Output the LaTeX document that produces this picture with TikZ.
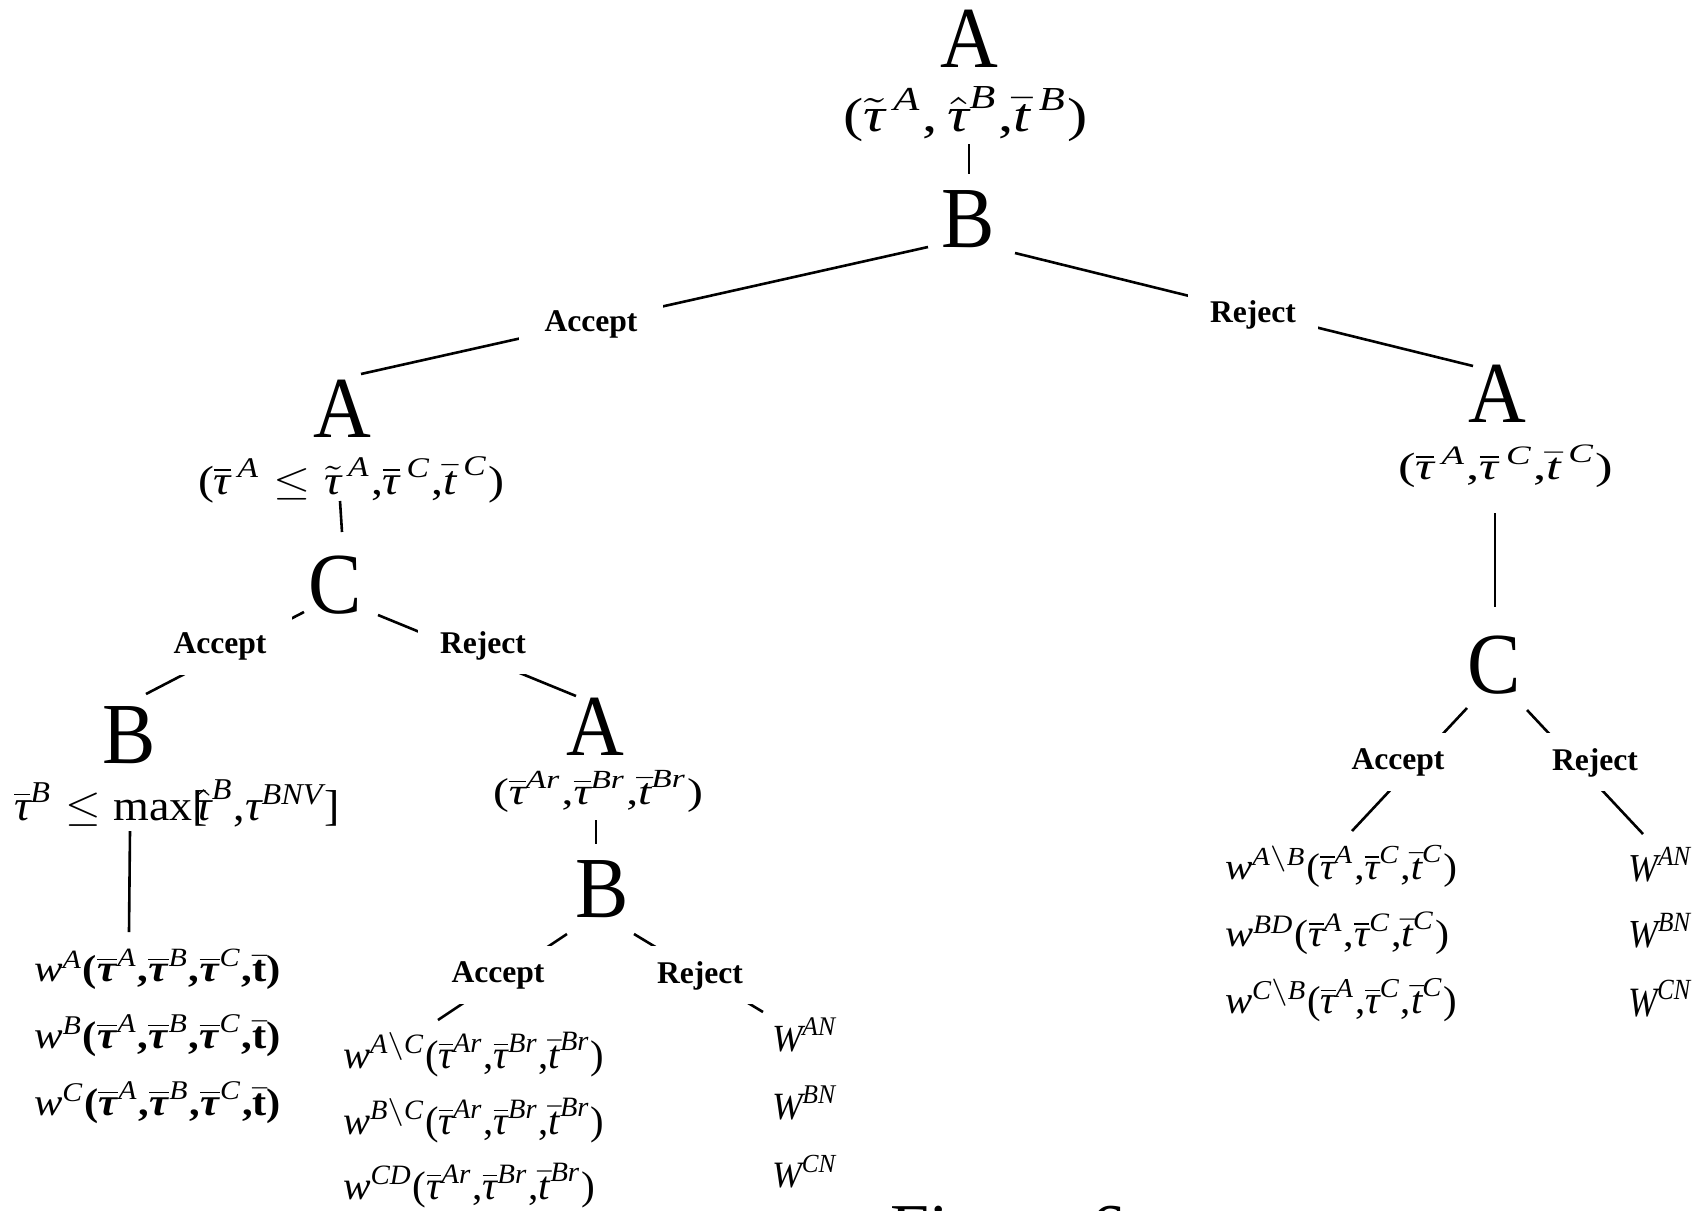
\documentclass[tikz,border=0pt]{standalone}
\usepackage{fontspec}
\setmainfont{Liberation Serif}
\usepackage{amsmath}
\usepackage{graphicx}
\usetikzlibrary{calc}
\newlength\pxu \setlength\pxu{0.5pt}
\newcommand{\fitf}[3]{\resizebox*{#1\pxu}{#2\pxu}{#3}}
\newcommand{\myI}[1]{\textit{#1}}
\newcommand{\myR}[1]{\textrm{#1}}
\newcommand{\mytauB}{\overline{\textit{τ}}}
\newcommand{\mytauBB}{\overline{\textbf{\textit{τ}}}}
\newcommand{\mytauT}{\tilde{\textit{τ}}}
\newcommand{\mytauH}{\hat{\textit{τ}}}
\newcommand{\mytB}{\bar{\textit{t}}}
\newcommand{\bigL}[1]{\scalebox{0.92}[1]{#1}}
\tikzset{
  big/.style={font=\fontsize{43.5}{50}\selectfont, inner sep=0pt, outer sep=0pt, anchor=base},
  fml/.style={inner sep=0pt, outer sep=0pt, anchor=north west},
  lbl/.style={font=\fontsize{15.8}{18}\selectfont\bfseries, fill=white, inner sep=0pt, minimum height=29pt, anchor=base},
  acc/.style={lbl, minimum width=72pt},
  rej/.style={lbl, minimum width=65pt},
  edge/.style={line width=1.3pt}
}
\begin{document}
\begin{tikzpicture}[x=0.5pt,y=-0.5pt]
\fill[white] (0,0) rectangle (1701,1210);
\useasboundingbox (0,0) rectangle (1701,1210);

% big letters
\node[big] (A1) at (969,67) {\bigL{A}};
\node[big] (B1) at (968,247) {\bigL{B}};
\node[big] (A2L) at (342,437) {\bigL{A}};
\node[big] (C2L) at (335,613) {\bigL{C}};
\node[big] (B3L) at (129,763) {\bigL{B}};
\node[big] (A3) at (595,755) {\bigL{A}};
\node[big] (B4) at (602,917) {\bigL{B}};
\node[big] (A2R) at (1497,422) {\bigL{A}};
\node[big] (C2R) at (1494,693) {\bigL{C}};

% formulas
\node[fml] (lab1) at (843,87) {\fitf{245}{55}{$\myR{(}\mytauT^{\,\myI{A}}\myR{,}\,\mytauH^{\myI{B}}\myR{,}\mytB^{\,\myI{B}}\myR{)}$}};
\node[fml] (lab2L) at (198,457) {\fitf{306}{46}{$\myR{(}\mytauB^{\,\myI{A}}\le\mytauT^{\,\myI{A}}\myR{,}\mytauB^{\,\myI{C}}\myR{,}\mytB^{\,\myI{C}}\myR{)}$}};
\node[fml] (lab2R) at (1398,445) {\fitf{215}{43}{$\myR{(}\mytauB^{\,\myI{A}}\myR{,}\mytauB^{\,\myI{C}}\myR{,}\mytB^{\,\myI{C}}\myR{)}$}};
\node[fml] (lab3L) at (14,780) {\fitf{326}{47}{$\mytauB^{\myI{B}}\le\myR{max}\myR{[}\mkern-5mu\mytauH^{\myI{B}}\myR{,}\textit{τ}^{\myI{BNV}}\myR{]}$}};
\node[fml] (lab3) at (493,770) {\fitf{210}{42}{$\myR{(}\mytauB^{\myI{Ar}}\myR{,}\mytauB^{\myI{Br}}\myR{,}\mytB^{\myI{Br}}\myR{)}$}};

\node[fml] (wL1) at (34,949) {\fitf{247}{41}{$\myI{w}^{\myI{A}}\textbf{(}\mytauBB^{\myI{A}}\textbf{,}\mytauBB^{\myI{B}}\textbf{,}\mytauBB^{\myI{C}}\textbf{,}\bar{\textbf{t}}\textbf{)}$}};
\node[fml] (wL2) at (34,1015) {\fitf{247}{42}{$\myI{w}^{\myI{B}}\textbf{(}\mytauBB^{\myI{A}}\textbf{,}\mytauBB^{\myI{B}}\textbf{,}\mytauBB^{\myI{C}}\textbf{,}\bar{\textbf{t}}\textbf{)}$}};
\node[fml] (wL3) at (34,1082) {\fitf{247}{42}{$\myI{w}^{\myI{C}}\textbf{(}\mytauBB^{\myI{A}}\textbf{,}\mytauBB^{\myI{B}}\textbf{,}\mytauBB^{\myI{C}}\textbf{,}\bar{\textbf{t}}\textbf{)}$}};

\node[fml] (wM1) at (343,1032) {\fitf{261}{45}{$\myI{w}^{\myI{A}\backslash\myI{C}}\myR{(}\mytauB^{\myI{Ar}}\myR{,}\mytauB^{\myI{Br}}\myR{,}\mytB^{\myI{Br}}\myR{)}$}};
\node[fml] (wM2) at (343,1098) {\fitf{261}{45}{$\myI{w}^{\myI{B}\backslash\myI{C}}\myR{(}\mytauB^{\myI{Ar}}\myR{,}\mytauB^{\myI{Br}}\myR{,}\mytB^{\myI{Br}}\myR{)}$}};
\node[fml] (wM3) at (343,1163) {\fitf{252}{45}{$\myI{w}^{\myI{CD}}\myR{(}\mytauB^{\myI{Ar}}\myR{,}\mytauB^{\myI{Br}}\myR{,}\mytB^{\myI{Br}}\myR{)}$}};

\node[fml] (WM1) at (772,1018) {\fitf{65}{34}{$\myI{W}^{\myI{AN}}$}};
\node[fml] (WM2) at (772,1086) {\fitf{65}{34}{$\myI{W}^{\myI{BN}}$}};
\node[fml] (WM3) at (772,1155) {\fitf{65}{33}{$\myI{W}^{\myI{CN}}$}};

\node[fml] (wR1) at (1225,845) {\fitf{232}{42}{$\myI{w}^{\myI{A}\backslash\myI{B}}\myR{(}\mytauB^{\myI{A}}\myR{,}\mytauB^{\myI{C}}\myR{,}\mytB^{\myI{C}}\myR{)}$}};
\node[fml] (wR2) at (1225,912) {\fitf{224}{43}{$\myI{w}^{\myI{BD}}\myR{(}\mytauB^{\myI{A}}\myR{,}\mytauB^{\myI{C}}\myR{,}\mytB^{\myI{C}}\myR{)}$}};
\node[fml] (wR3) at (1225,978) {\fitf{232}{44}{$\myI{w}^{\myI{C}\backslash\myI{B}}\myR{(}\mytauB^{\myI{A}}\myR{,}\mytauB^{\myI{C}}\myR{,}\mytB^{\myI{C}}\myR{)}$}};

\node[fml] (WR1) at (1628,847) {\fitf{64}{35}{$\myI{W}^{\myI{AN}}$}};
\node[fml] (WR2) at (1628,913) {\fitf{64}{35}{$\myI{W}^{\myI{BN}}$}};
\node[fml] (WR3) at (1628,980) {\fitf{64}{37}{$\myI{W}^{\myI{CN}}$}};

\node[font=\fontsize{35}{40}\selectfont, anchor=base west, inner sep=0pt] (fig) at (890,1252) {Figure 6};

% connectors
\draw[edge] ($(lab1.north west)+(126,57)$) -- ($(B1.base)+(1,-73)$);
\draw[edge] ($(B1.base)+(-40,0)$) -- ($(A2L.base)+(19,-63)$);
\draw[edge] ($(B1.base)+(47,6)$) -- ($(A2R.base)+(-24,-56)$);
\draw[edge] ($(lab2L.north west)+(142,44)$) -- ($(C2L.base)+(7,-81)$);
\draw[edge] ($(C2L.base)+(-31,-1)$) -- ($(B3L.base)+(17,-69)$);
\draw[edge] ($(C2L.base)+(43,2)$) -- ($(A3.base)+(-19,-59)$);
\draw[edge] ($(lab3L.north west)+(116,51)$) -- ($(wL1.north west)+(95,-17)$);
\draw[edge] ($(lab3.north west)+(103,50)$) -- ($(B4.base)+(-6,-73)$);
\draw[edge] ($(B4.base)+(-35,17)$) -- ($(wM1.north west)+(95,-12)$);
\draw[edge] ($(B4.base)+(32,17)$) -- ($(WM1.north west)+(-9,-6)$);
\draw[edge] ($(lab2R.north west)+(97,68)$) -- ($(C2R.base)+(1,-86)$);
\draw[edge] ($(C2R.base)+(-27,15)$) -- ($(wR1.north west)+(127,-14)$);
\draw[edge] ($(C2R.base)+(33,17)$) -- ($(WR1.north west)+(15,-13)$);

% branch labels
\node[acc] (acc1) at (591,331) {Accept};
\node[rej] (rej1) at (1253,322) {Reject};
\node[acc] (accL2) at (220,653) {Accept};
\node[rej] (rejL2) at (483,653) {Reject};
\node[acc] (accB4) at (498,982) {Accept};
\node[rej] (rejB4) at (700,983) {Reject};
\node[acc] (accR) at (1398,769) {Accept};
\node[rej] (rejR) at (1595,770) {Reject};
\end{tikzpicture}
\end{document}
